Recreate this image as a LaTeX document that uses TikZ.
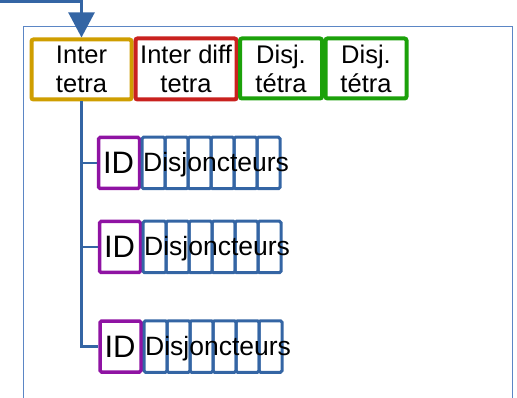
\documentclass[tikz,border=0pt]{standalone}
\usepackage{fontspec}
\setmainfont{Liberation Sans}
\usetikzlibrary{arrows.meta}
\definecolor{cgold}{HTML}{CF9E00}
\definecolor{cred}{HTML}{C9211E}
\definecolor{cgreen}{HTML}{1CA10A}
\definecolor{cpurple}{HTML}{8F13A3}
\definecolor{cblue}{HTML}{3465A4}
\definecolor{cframe}{HTML}{5B86C5}
\tikzset{
  topbox/.style={draw=#1, line width=4pt, rounded corners=2pt, inner sep=0pt, align=center,
    font=\fontsize{25.5}{29}\selectfont, fill=white},
  idbox/.style={draw=cpurple, line width=3.5pt, rounded corners=1.5pt, inner sep=0pt,
    minimum width=41pt, minimum height=51pt},
  cell/.style={draw=cblue, line width=3pt, rounded corners=1.5pt, inner sep=0pt,
    minimum width=23pt, minimum height=51.5pt},
  disjtext/.style={anchor=west, inner sep=0pt, font=\fontsize{26.5}{28}\selectfont},
  idtext/.style={inner sep=0pt, font=\fontsize{31}{32}\selectfont},
  conn/.style={draw=cblue, line width=2.3pt},
  frame/.style={draw=cframe, line width=1pt}
}
\begin{document}
\begin{tikzpicture}[x=1pt,y=-1pt]
\useasboundingbox (0,0) rectangle (517,398);
\draw[frame] (23,27) rectangle (512.5,405);
\node[topbox=cgold, minimum width=100pt, minimum height=60pt] (it) at (81.5,69.5) {Inter\\tetra};
\node[topbox=cred, minimum width=101pt, minimum height=61pt] (idt) at (186,69) {Inter diff\\tetra};
\node[topbox=cgreen, minimum width=82pt, minimum height=60pt] (dt1) at (281,68.5) {Disj.\\tétra};
\node[topbox=cgreen, minimum width=81pt, minimum height=60pt] (dt2) at (366,68.5) {Disj.\\tétra};
\coordinate (start) at (0,1.5);
\draw[conn, -{Triangle[width=26pt,length=25pt]}] (start) -| (it.north);
% rows
\foreach \r/\y/\ix/\cx in {1/163/119/142, 2/247/120/143, 3/346.5/120.5/144}{
  \node[idbox] (id\r) at (\ix,\y) {};
  \node[idtext] (idl\r) at (\ix-0.5,\y) {ID};
  \foreach \k in {0,...,5}{
    \node[cell] (c\r\k) at ({\cx+11.5+23*\k},\y) {};
  }
  \node[disjtext] (dj\r) at (\cx+1,\y+2) {Disjoncteurs};
}
\draw[conn] (it.south) |- (id3.west);
\draw[conn] (id1.west -| it.south) -- (id1.west);
\draw[conn] (id2.west -| it.south) -- (id2.west);
\end{tikzpicture}
\end{document}
